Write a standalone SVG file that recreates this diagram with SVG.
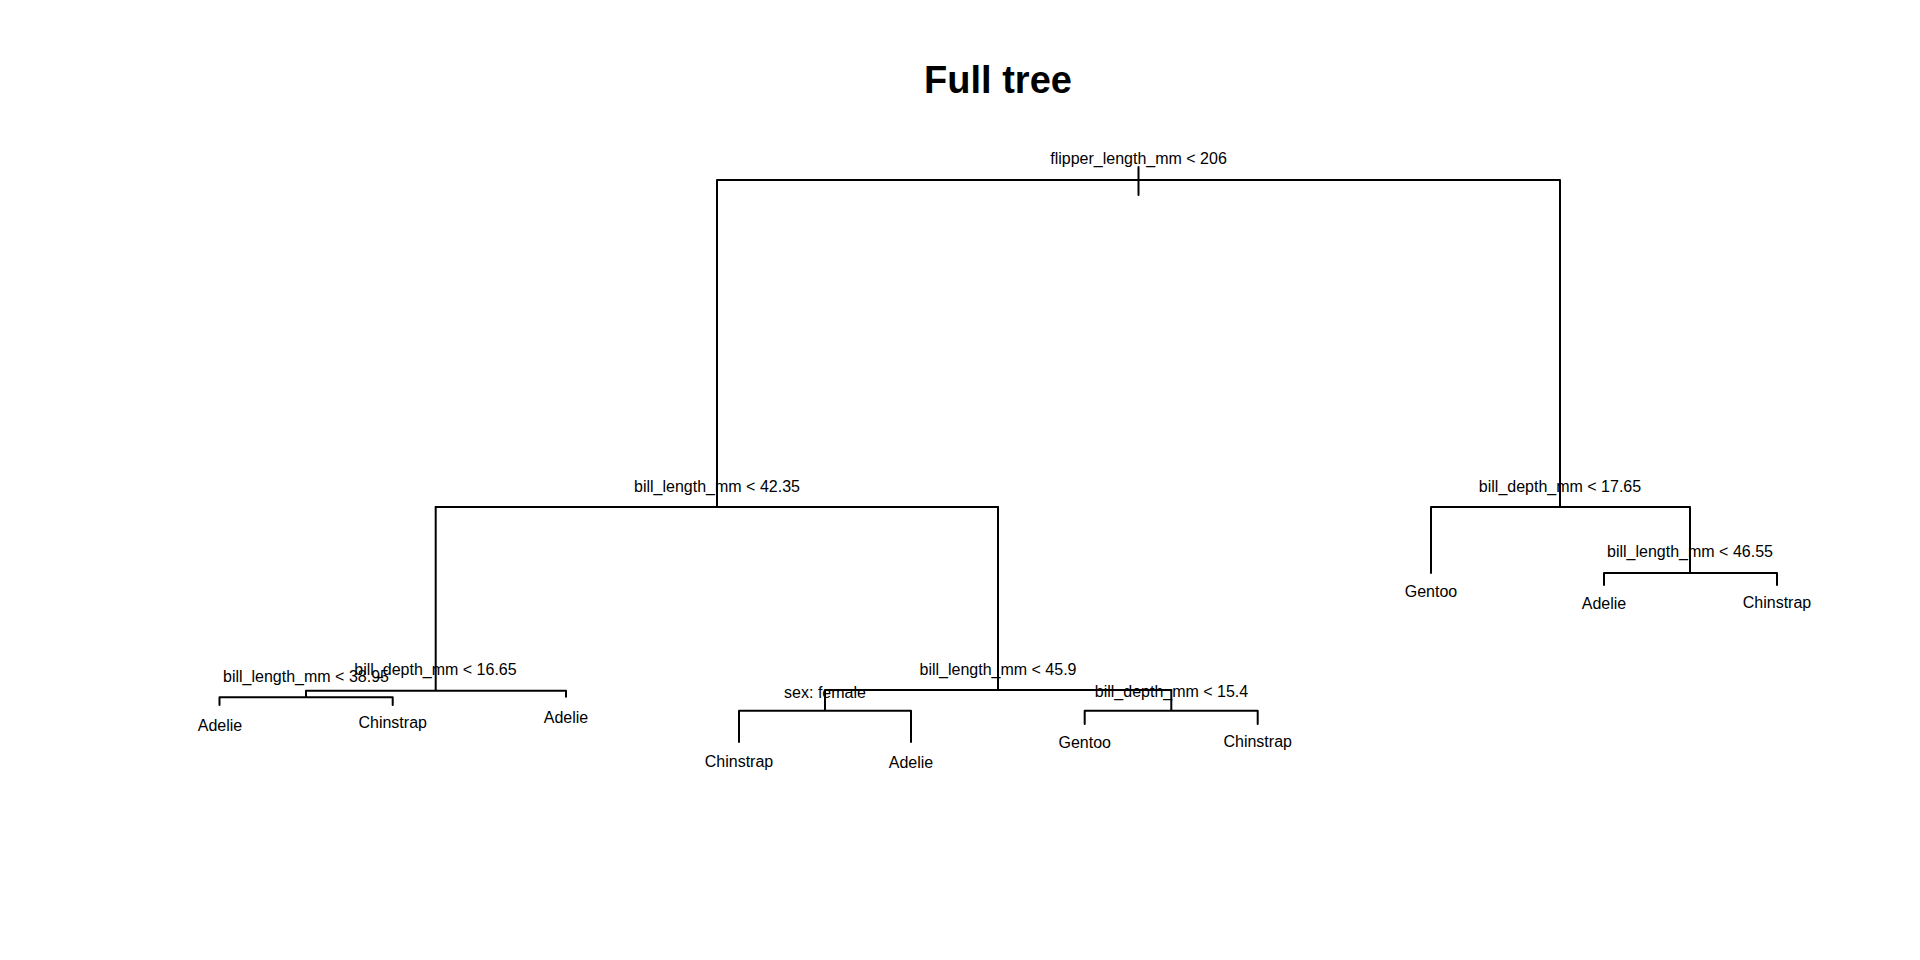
<svg xmlns="http://www.w3.org/2000/svg" width="1920" height="960" viewBox="0 0 1920 960">
<style>
text{font-family:"Liberation Sans",Arial,sans-serif;font-size:16px;fill:#000;text-anchor:middle}
.title{font-size:38px;font-weight:bold}
.edge{fill:none;stroke:#000;stroke-width:2;stroke-linecap:round}
</style>
<rect width="1920" height="960" fill="#fff"/>
<text class="title" x="998" y="93">Full tree</text>
<g id="connectors">
<path class="edge" d="M1138.5 167V195M717 180H1560M717 180V507M1560 180V507"/>
<path class="edge" d="M435.7 507H998M1431 507H1690M1431 507V573M1690 507V573"/>
<path class="edge" d="M1604 573H1777M1604 573V585M1777 573V585"/>
<path class="edge" d="M435.7 507V690.7M306 690.7H566M306 690.7V697.3M219.5 697.3H392.7M219.5 697.3V705M392.7 697.3V705M566 690.7V696.7"/>
<path class="edge" d="M998 507V690M825 690H1171.3M825 690V710.7M739 710.7H911M739 710.7V742M911 710.7V742"/>
<path class="edge" d="M1171.3 690V710.7M1084.7 710.7H1257.7M1084.7 710.7V724M1257.7 710.7V724"/>
</g>
<g id="n_root"><text x="1138.5" y="164">flipper_length_mm &lt; 206</text></g>
<g id="n_bl4235"><text x="717" y="491.7">bill_length_mm &lt; 42.35</text></g>
<g id="n_bd1765"><text x="1560" y="492">bill_depth_mm &lt; 17.65</text></g>
<g id="n_bl4655"><text x="1690" y="557">bill_length_mm &lt; 46.55</text></g>
<g id="leaf_gentoo1"><text x="1431" y="597">Gentoo</text></g>
<g id="leaf_adelie4"><text x="1604" y="609">Adelie</text></g>
<g id="leaf_chinstrap4"><text x="1777" y="607.7">Chinstrap</text></g>
<g id="n_bd1665"><text x="435.5" y="675">bill_depth_mm &lt; 16.65</text></g>
<g id="n_bl3895"><text x="306" y="681.7">bill_length_mm &lt; 38.95</text></g>
<g id="leaf_adelie1"><text x="220" y="731">Adelie</text></g>
<g id="leaf_chinstrap1"><text x="392.7" y="728.3">Chinstrap</text></g>
<g id="leaf_adelie2"><text x="566" y="722.7">Adelie</text></g>
<g id="n_bl459"><text x="998" y="675">bill_length_mm &lt; 45.9</text></g>
<g id="n_sex"><text x="825" y="698.3">sex: female</text></g>
<g id="leaf_chinstrap2"><text x="739" y="767">Chinstrap</text></g>
<g id="leaf_adelie3"><text x="911" y="767.5">Adelie</text></g>
<g id="n_bd154"><text x="1171.5" y="696.7">bill_depth_mm &lt; 15.4</text></g>
<g id="leaf_gentoo2"><text x="1084.7" y="748.3">Gentoo</text></g>
<g id="leaf_chinstrap3"><text x="1257.7" y="747.3">Chinstrap</text></g>
</svg>
